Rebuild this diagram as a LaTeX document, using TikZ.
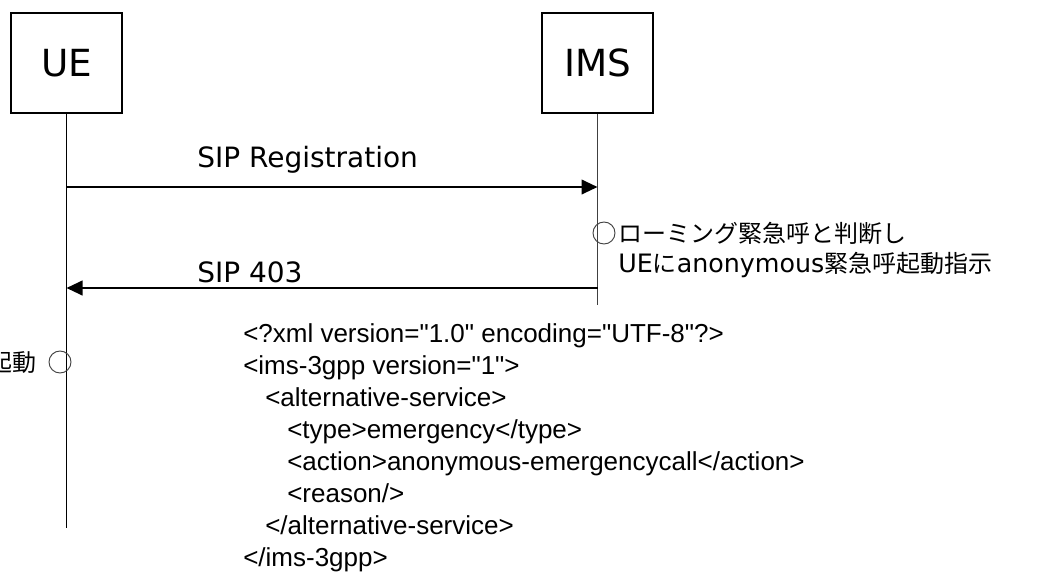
\documentclass[tikz,border=0pt]{standalone}
\usepackage{fontspec}
\setmainfont{Liberation Sans}[Ligatures=TeXOff]
\newfontfamily\jpfont{Noto Sans CJK JP}
\newfontfamily\latfont{DejaVu Sans}
\usetikzlibrary{arrows.meta}
\begin{document}
\begin{tikzpicture}[
    x=0.75pt, y=-0.75pt,
    entity/.style={draw, line width=1.5pt, minimum width=83pt, minimum height=75pt, inner sep=0pt, font=\latfont\fontsize{28}{32}\selectfont},
    lifeline/.style={line width=1pt},
    msg/.style={line width=1.5pt, -{Triangle[length=12pt, width=11pt]}},
    msglabel/.style={anchor=west, inner sep=0pt, font=\latfont\fontsize{21}{24}\selectfont},
    spot/.style={circle, draw=black!75, line width=0.7pt, minimum size=16.5pt, inner sep=0pt},
    note/.style={anchor=west, inner sep=0pt, font=\jpfont\fontsize{18}{22}\selectfont},
    xmlbody/.style={anchor=north west, inner sep=0pt, align=left, font=\fontsize{19.5}{24}\selectfont},
]
  \useasboundingbox (0,0) rectangle (1051,576);

  \node [entity] (ue)  at (66.5,63)  {UE};
  \node [entity] (ims) at (597.5,63) {IMS};

  \coordinate (ue-end)  at (66.5,528);
  \coordinate (ims-end) at (597.5,305);
  \draw [lifeline] (ue.south)  -- (ue-end);
  \draw [lifeline, black!75] (ims.south) -- (ims-end);

  % SIP Registration
  \coordinate (ue-reg)  at (66.5,187);
  \coordinate (ims-reg) at (597.5,187);
  \draw [msg] (ue-reg) -- (ims-reg);
  \node [msglabel] (reg-label) at (197,160) {SIP Registration};

  % IMS decides
  \node [spot] (ims-chk) at (604,233) {};
  \node [note] (judge)   at (618,233) {ローミング緊急呼と判断し};
  \node [note] (order)   at (618,265) {{\latfont\fontsize{19}{22}\selectfont UE}に{\latfont\fontsize{19}{22}\selectfont anonymous}緊急呼起動指示};

  % SIP 403
  \coordinate (ims-rej) at (597.5,288);
  \coordinate (ue-rej)  at (66.5,288);
  \draw [msg] (ims-rej) -- (ue-rej);
  \node [msglabel] (rej-label) at (197,272) {SIP 403};

  % UE starts anonymous call
  \node [spot] (ue-chk) at (60,362) {};
  \node [note, anchor=east] (start) at (37,362) {起動};

  \node [xmlbody] (body) at (243,323) {%
    <?xml version="1.0" encoding="UTF-8"?>\\
    <ims-3gpp version="1">\\
    \hspace*{16.5pt}<alternative-service>\\
    \hspace*{33pt}<type>emergency</type>\\
    \hspace*{33pt}<action>anonymous-emergencycall</action>\\
    \hspace*{33pt}<reason/>\\
    \hspace*{16.5pt}</alternative-service>\\
    </ims-3gpp>};
\end{tikzpicture}
\end{document}
